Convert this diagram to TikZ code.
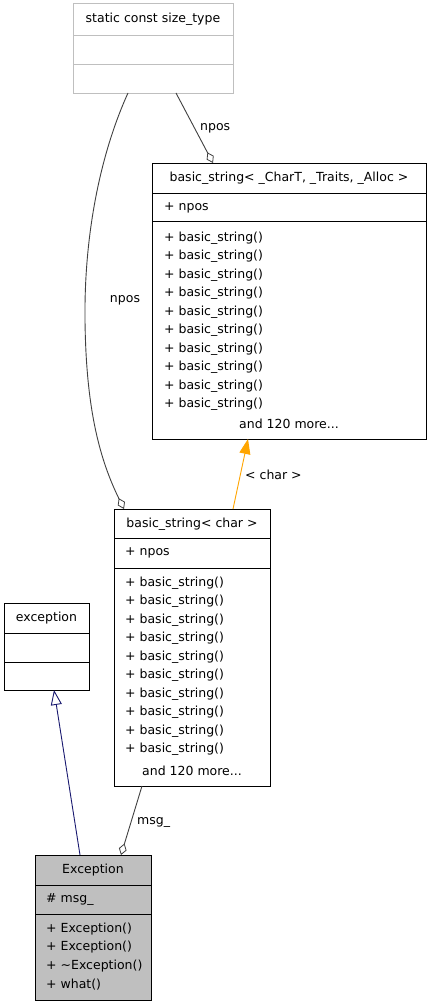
\documentclass[tikz,border=0pt]{standalone}
\usepackage{fontspec}
\setmainfont{DejaVu Sans}
\usetikzlibrary{arrows.meta}
\definecolor{boxgray}{HTML}{BFBFBF}
\definecolor{edgegray}{HTML}{404040}
\definecolor{inhorange}{HTML}{FFA500}
\definecolor{inhnavy}{HTML}{191970}
\begin{document}
\begin{tikzpicture}[x=1pt,y=-1pt,
  box/.style={draw=black,line width=0.9pt,rectangle,anchor=north west,inner sep=0pt},
  sep/.style={line width=0.9pt},
  txt/.style={font=\fontsize{12.5}{13}\selectfont,inner sep=0pt,anchor=west},
  ttl/.style={font=\fontsize{12.5}{13}\selectfont,inner sep=0pt,anchor=center},
  agg/.style={draw=edgegray,line width=0.9pt,-{Diamond[open,length=12pt,width=8pt,line width=0.8pt]}},
  lbl/.style={font=\fontsize{12.5}{13}\selectfont,inner sep=0pt}
]
\useasboundingbox (0,0) rectangle (431,1008);
\fill[white] (0,0) rectangle (431,1008);

% size_type box
\node[box,draw=boxgray,minimum width=160pt,minimum height=90pt] (st) at (73,3) {};
\draw[sep,draw=boxgray] (73,35) -- (233,35);
\draw[sep,draw=boxgray] (73,64) -- (233,64);
\node[ttl] (sttitle) at (153,19) {static const size\_type};

% basic_string<_CharT,...>
\node[box,minimum width=274pt,minimum height=276pt] (bs) at (152,163) {};
\node[ttl] (bstitle) at (289,178) {basic\_string< \_CharT, \_Traits, \_Alloc >};
\draw[sep] (152,193) -- (426,193);
\node[txt] (bsnpos) at (164,208) {+ npos};
\draw[sep] (152,221) -- (426,221);
\foreach \y [count=\i] in {238,256.5,275,293.5,312,330.5,349,367.5,386,404.5}
  \node[txt] (bsm\i) at (164,\y) {+ basic\_string()};
\node[ttl] (bsmore) at (289,424) {and 120 more...};

% basic_string<char>
\node[box,minimum width=156pt,minimum height=277pt] (bc) at (114,509) {};
\node[ttl] (bctitle) at (192,524) {basic\_string< char >};
\draw[sep] (114,538) -- (270,538);
\node[txt] (bcnpos) at (125,553) {+ npos};
\draw[sep] (114,568) -- (270,568);
\foreach \y [count=\i] in {583,601.5,620,638.5,657,675.5,694,712.5,731,749.5}
  \node[txt] (bcm\i) at (125,\y) {+ basic\_string()};
\node[ttl] (bcmore) at (192,771) {and 120 more...};

% exception
\node[box,minimum width=85pt,minimum height=87pt] (ex) at (4,603) {};
\node[ttl] (extitle) at (46.5,618) {exception};
\draw[sep] (4,633) -- (89,633);
\draw[sep] (4,662) -- (89,662);

% Exception
\node[box,fill=boxgray,minimum width=116pt,minimum height=145pt] (Ex) at (35,855) {};
\node[ttl] (Extitle) at (93,870) {Exception};
\draw[sep] (35,885) -- (151,885);
\node[txt] (Exmsg) at (46,899) {\# msg\_};
\draw[sep] (35,914) -- (151,914);
\node[txt] (Ex1) at (46,929) {+ Exception()};
\node[txt] (Ex2) at (46,947.5) {+ Exception()};
\node[txt] (Ex3) at (46,966) {+ \textasciitilde Exception()};
\node[txt] (Ex4) at (46,984.5) {+ what()};

% connector endpoints
\coordinate (stA) at (176,93);
\coordinate (bsTop) at (213,163);
\coordinate (stB) at (128,93);
\coordinate (bcTopL) at (124,509);
\coordinate (bcTopR) at (233,509);
\coordinate (bsBot) at (248,439);
\coordinate (ExTopL) at (80,855);
\coordinate (exBot) at (54,690);
\coordinate (bcBot) at (142,786);
\coordinate (ExTopR) at (121,855);

% npos -> basic_string<_CharT...>
\draw[agg] (stA) -- (bsTop);
\node[lbl,anchor=west] (l1) at (200,128) {npos};

% npos -> basic_string<char>
\draw[agg] (stB) .. controls (102,150) and (84,230) .. (85,320)
  .. controls (86,410) and (100,460) .. (bcTopL);
\node[lbl] (l2) at (125,300) {npos};

% template instance
\draw[draw=inhorange,line width=0.9pt,-{Triangle[length=15pt,width=11pt,fill=inhorange]}] (bcTopR) -- (bsBot);
\node[lbl,anchor=west] (l3) at (245,475) {< char >};

% inheritance
\draw[draw=inhnavy,line width=0.9pt,-{Triangle[open,length=15pt,width=11pt,fill=white]}] (ExTopL) -- (exBot);

% msg_
\draw[agg] (bcBot) -- (ExTopR);
\node[lbl,anchor=west] (l4) at (137,822) {msg\_};
\end{tikzpicture}
\end{document}
